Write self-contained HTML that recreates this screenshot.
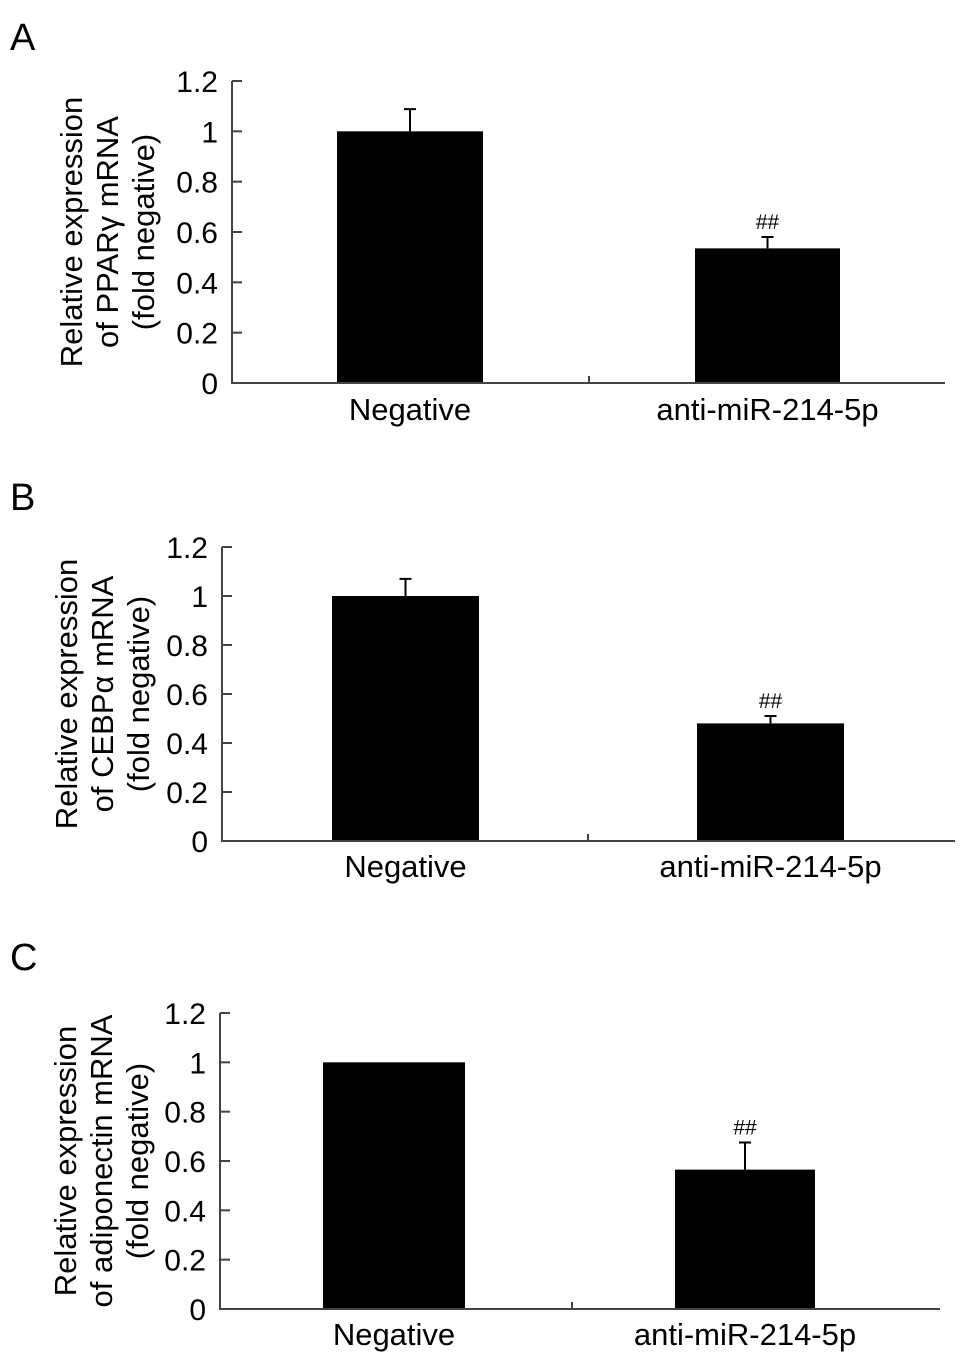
<!DOCTYPE html>
<html><head><meta charset="utf-8"><style>
html,body{margin:0;padding:0;background:#fff}
svg{display:block;font-family:"Liberation Sans",Arial,sans-serif}
</style></head><body>
<svg id="fig" width="969" height="1363" viewBox="0 0 969 1363" xmlns="http://www.w3.org/2000/svg"></svg>
<script>
const categories = ["Negative", "anti-miR-214-5p"];
const tickLabels = ["0", "0.2", "0.4", "0.6", "0.8", "1", "1.2"];
const tickValues = [0, 0.2, 0.4, 0.6, 0.8, 1, 1.2];
const valuesA = [1.0, 0.535];
const errorsA = [0.088, 0.045];
const valuesB = [1.0, 0.48];
const errorsB = [0.07, 0.03];
const valuesC = [1.0, 0.565];
const errorsC = [0, 0.11];
const sigLabels = ["", "##"];

const NS = "http://www.w3.org/2000/svg";
const svg = document.getElementById("fig");
function mk(tag, attrs, parent) {
  const e = document.createElementNS(NS, tag);
  for (const k in attrs) e.setAttribute(k, attrs[k]);
  (parent || svg).appendChild(e);
  return e;
}

const panels = [
  {id:"a", letter:"A", ly:50, x0:232, x1:945, y0:383, yTop:81, mid:589, bars:[[337,483],[695,840]], values:valuesA, errors:errorsA, lbl:["Relative expression","of PPARγ mRNA","(fold negative)"], labelY:420, titleX:[82,118,154]},
  {id:"b", letter:"B", ly:510, x0:222, x1:955, y0:841, yTop:547, mid:588, bars:[[332,479],[697,844]], values:valuesB, errors:errorsB, lbl:["Relative expression","of CEBPα mRNA","(fold negative)"], labelY:877, titleX:[77,113,149]},
  {id:"c", letter:"C", ly:970, x0:220, x1:940, y0:1309, yTop:1013, mid:572, bars:[[323,465],[675,815]], values:valuesC, errors:errorsC, lbl:["Relative expression","of adiponectin mRNA","(fold negative)"], labelY:1345, titleX:[76,112,148]}
];

panels.forEach(p => {
  const g = mk("g", {});
  
  
  const yScale = v => p.y0 - (v / 1.2) * (p.y0 - p.yTop);
  const L = mk("text", {x:10, y:p.ly, "font-size":38}, g);
  L.textContent = p.letter;
  
  
  p.values.forEach((v, i) => {
    const [bx0, bx1] = p.bars[i];
    const r = mk("rect", {x:bx0, y:yScale(v), width:bx1-bx0, height:p.y0-yScale(v), fill:"#000"}, g);
    
    
    const err = p.errors[i];
    if (err > 0) {
      const cx = (bx0 + bx1) / 2;
      const eg = mk("path", {d:`M${cx},${yScale(v)} V${yScale(v+err)} M${cx-6},${yScale(v+err)} H${cx+6}`, stroke:"#000", "stroke-width":2, fill:"none"}, g);
      
      
    }
    if (sigLabels[i]) {
      const s = mk("text", {x:(bx0+bx1)/2, y:yScale(v+err)-8, "font-size":21, "text-anchor":"middle"}, g);
      s.textContent = sigLabels[i];
      
      
    }
    const c = mk("text", {x:(bx0+bx1)/2, y:p.labelY, "font-size":31, "text-anchor":"middle"}, g);
    c.textContent = categories[i];
    
    
  });
  const ax = mk("path", {d:`M${p.x0},${p.yTop} V${p.y0} H${p.x1} M${p.mid},${p.y0} V${p.y0-7}`, stroke:"#444", "stroke-width":2, fill:"none"}, g);
  
  
  tickValues.forEach((t, i) => {
    const y = yScale(t);
    const tk = mk("line", {x1:p.x0, x2:p.x0+10, y1:y, y2:y, stroke:"#444", "stroke-width":2}, g);
    
    
    const tl = mk("text", {x:p.x0-14, y:y+11, "font-size":30, "text-anchor":"end"}, g);
    tl.textContent = tickLabels[i];
    
    
  });
  const cy = (p.y0 + p.yTop) / 2;
  p.lbl.forEach((line, i) => {
    const t = mk("text", {x:p.titleX[i], y:cy, "font-size":31, "text-anchor":"middle", transform:`rotate(-90 ${p.titleX[i]} ${cy})`}, g);
    t.textContent = line;
    
    
  });
});
</script>
</body></html>
